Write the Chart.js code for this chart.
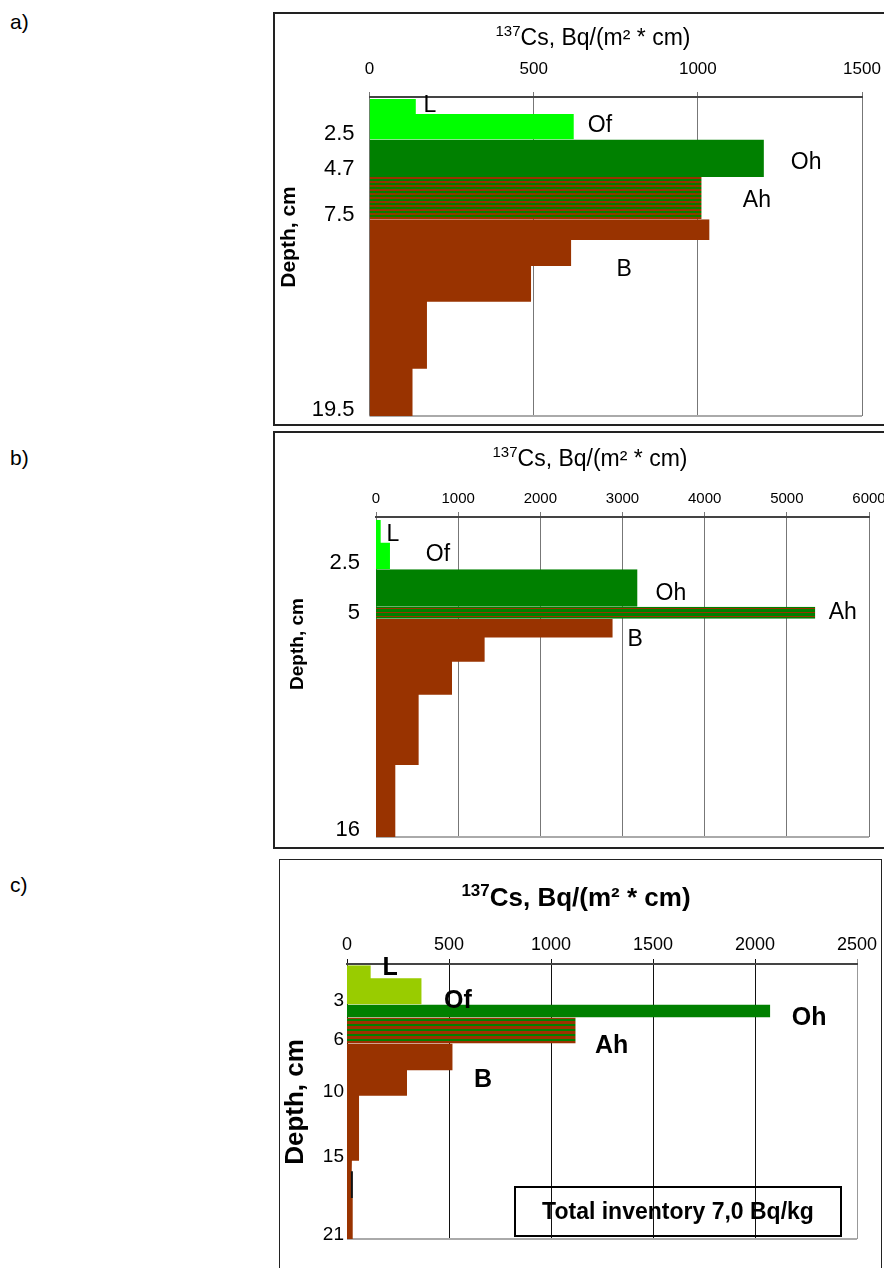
<!DOCTYPE html>
<html>
<head>
<meta charset="utf-8">
<script src="https://cdn.jsdelivr.net/npm/chart.js@4.4.1/dist/chart.umd.min.js"></script>
<style>
  body { margin: 0; width: 884px; height: 1268px; overflow: hidden; background: #fff; position: relative;
         font-family: 'Liberation Sans', Arial, sans-serif; }
  .tag { position: absolute; left: 10px; font-size: 21px; }
  .box { position: absolute; border: 2px solid #222; box-sizing: border-box; }
  canvas { position: absolute; }
  .inventory { position: absolute; left: 514px; top: 1186px; width: 328px; height: 51px; box-sizing: border-box;
               border: 2px solid #000; font-weight: bold; font-size: 23px; text-align: center; line-height: 47px; }
</style>
</head>
<body>
<div class="tag" style="top:10px">a)</div>
<div class="tag" style="top:446px">b)</div>
<div class="tag" style="top:873px">c)</div>

<div class="box" style="left:273px; top:12px; width:640px; height:414px"></div>
<div class="box" style="left:273px; top:431px; width:640px; height:418px"></div>
<div class="box" style="left:279px; top:859px; width:603px; height:430px; border-width:1px"></div>

<canvas id="chartA" width="610" height="411" style="left:274px; top:13px"></canvas>
<canvas id="chartB" width="610" height="415" style="left:274px; top:432px"></canvas>
<canvas id="chartC" width="600" height="407" style="left:280px; top:861px"></canvas>

<div class="inventory">Total inventory 7,0 Bq/kg</div>

<script>
// a) profile: layer boundaries (cm), activity per layer, horizon of each layer
const aDepthBounds = [0, 0.92, 2.5, 4.8, 7.4, 8.67, 10.27, 12.48, 16.6, 19.5];
const aActivity = [141, 622, 1201, 1011, 1035, 614, 492, 175, 131];
const aHorizon = ['L', 'Of', 'Oh', 'Ah', 'B', 'B', 'B', 'B', 'B'];
const aDepthTicks = [2.5, 4.7, 7.5, 19.5];
const aActivityTicks = [0, 500, 1000, 1500];

// b) profile
const bDepthBounds = [0, 1.15, 2.5, 4.39, 5.0, 5.95, 7.18, 8.85, 12.4, 16.05];
const bActivity = [57, 170, 3180, 5344, 2879, 1322, 925, 519, 235];
const bHorizon = ['L', 'Of', 'Oh', 'Ah', 'B', 'B', 'B', 'B', 'B'];
const bDepthTicks = [2.5, 5, 16];
const bActivityTicks = [0, 1000, 2000, 3000, 4000, 5000, 6000];

// c) profile
const cDepthBounds = [0, 1.0, 3.0, 4.0, 6.0, 8.05, 10.0, 15.0, 15.8, 17.85, 21];
const cActivity = [116, 365, 2074, 1120, 517, 294, 59, 24, 20, 28];
const cHorizon = ['L', 'Of', 'Oh', 'Ah', 'B', 'B', 'B', 'B', 'B', 'B'];
const cDepthTicks = [3, 6, 10, 15, 21];
const cActivityTicks = [0, 500, 1000, 1500, 2000, 2500];
const cMarkerDepth = [15.8, 17.85];
const cMarkerValue = 24;

Chart.defaults.font.family = "'Liberation Sans', Arial, sans-serif";
Chart.defaults.color = '#000';

const BROWN = '#993300';
const DARK_GREEN = '#008000';

function stripes(brownRows, greenRows) {
  const c = document.createElement('canvas');
  c.width = 4;
  c.height = brownRows + greenRows;
  const g = c.getContext('2d');
  g.fillStyle = BROWN;
  g.fillRect(0, 0, 4, brownRows);
  g.fillStyle = DARK_GREEN;
  g.fillRect(0, brownRows, 4, greenRows);
  return g.createPattern(c, 'repeat');
}

// one filled step outline per run of layers sharing the same fill
function layerSets(bounds, values, horizons, fills) {
  const sets = [];
  let current = null;
  values.forEach((v, i) => {
    const fill = fills[horizons[i]];
    if (!current || current.backgroundColor !== fill) {
      current = { data: [], backgroundColor: fill, fill: 'origin', borderWidth: 0, pointRadius: 0 };
      sets.push(current);
    }
    current.data.push({ x: v, y: bounds[i] }, { x: v, y: bounds[i + 1] });
  });
  return sets;
}

// no label overhang padding, the layout padding places the plot
function noOverhang(s) {
  s.paddingLeft = 0;
  s.paddingRight = 0;
  s.paddingTop = 0;
  s.paddingBottom = 0;
}

const panelText = {
  id: 'panelText',
  beforeDatasetsDraw(chart) {
    const { ctx, chartArea: a } = chart;
    ctx.save();
    ctx.strokeStyle = '#aaa';
    ctx.lineWidth = 2;
    ctx.beginPath();
    ctx.moveTo(a.left, a.bottom);
    ctx.lineTo(a.right, a.bottom);
    ctx.stroke();
    ctx.restore();
  },
  afterDraw(chart, args, opts) {
    const { ctx, scales: { x, y } } = chart;
    ctx.save();
    ctx.fillStyle = '#000';
    ctx.textBaseline = 'middle';
    ctx.textAlign = 'center';
    ctx.font = opts.labelFont;
    opts.spots.forEach((s) => ctx.fillText(s.text, x.getPixelForValue(s.x), y.getPixelForValue(s.y) + 2));

    const t = opts.title;
    ctx.font = t.font;
    const mainW = ctx.measureText(t.text).width;
    ctx.font = t.supFont;
    const supW = ctx.measureText(t.sup).width;
    const left = t.x - (mainW + supW) / 2;
    ctx.textAlign = 'left';
    ctx.fillText(t.sup, left, t.y - t.rise);
    ctx.font = t.font;
    ctx.fillText(t.text, left + supW, t.y);

    const d = opts.depthTitle;
    ctx.translate(d.x, d.y);
    ctx.rotate(-Math.PI / 2);
    ctx.font = d.font;
    ctx.textAlign = 'center';
    ctx.fillText('Depth, cm', 0, 0);
    ctx.restore();
  },
};

function makeChart(id, p) {
  return new Chart(document.getElementById(id), {
    type: 'line',
    data: { datasets: p.datasets },
    plugins: [panelText],
    options: {
      indexAxis: 'y',
      responsive: false,
      animation: false,
      layout: { padding: p.padding },
      plugins: { legend: { display: false }, tooltip: { enabled: false }, panelText: p.text },
      scales: {
        x: {
          type: 'linear',
          position: 'top',
          min: p.xTicks[0],
          max: p.xTicks[p.xTicks.length - 1],
          afterBuildTicks: (s) => { s.ticks = p.xTicks.map((v) => ({ value: v })); },
          afterFit: (s) => { s.height = p.xHeight; noOverhang(s); },
          ticks: { font: { size: p.xTickSize }, padding: p.xTickPad, maxRotation: 0, callback: (v) => String(v) },
          grid: { color: p.gridColor, lineWidth: 1, tickLength: 5 },
          border: { color: '#444', width: 2 },
        },
        y: {
          type: 'linear',
          reverse: true,
          min: p.yMin,
          max: p.yMax,
          afterBuildTicks: (s) => { s.ticks = p.yTicks.map((v) => ({ value: v })); },
          afterFit: (s) => { s.width = p.yWidth; noOverhang(s); },
          ticks: { font: { size: p.yTickSize }, padding: p.yTickPad, labelOffset: p.yLabelOffset, autoSkip: false,
                   callback: (v) => String(v) },
          grid: { display: false, drawTicks: false },
          border: { display: false },
        },
      },
    },
  });
}

const litter = '#00ff00';
const fillsA = { L: litter, Of: litter, Oh: DARK_GREEN, Ah: stripes(2, 2), B: BROWN };
const fillsB = { L: litter, Of: litter, Oh: DARK_GREEN, Ah: stripes(1, 3), B: BROWN };
const fillsC = { L: '#99cc00', Of: '#99cc00', Oh: DARK_GREEN, Ah: stripes(3, 2), B: BROWN };

makeChart('chartA', {
  datasets: layerSets(aDepthBounds, aActivity, aHorizon, fillsA),
  padding: { left: 0, right: 22, top: 0, bottom: 8 },
  xTicks: aActivityTicks, xHeight: 84, xTickSize: 17, xTickPad: 12, gridColor: '#777',
  yTicks: aDepthTicks, yMin: -0.12, yMax: 19.5, yWidth: 95.5, yTickSize: 22, yTickPad: 15, yLabelOffset: -6,
  text: {
    labelFont: "23px 'Liberation Sans', Arial, sans-serif",
    spots: [
      { text: 'L', x: 184, y: 0.3 }, { text: 'Of', x: 702, y: 1.54 }, { text: 'Oh', x: 1330, y: 3.8 },
      { text: 'Ah', x: 1180, y: 6.15 }, { text: 'B', x: 776, y: 10.4 },
    ],
    title: { sup: '137', text: 'Cs, Bq/(m² * cm)', x: 319, y: 26, rise: 7,
             font: "23px 'Liberation Sans', Arial, sans-serif", supFont: "15px 'Liberation Sans', Arial, sans-serif" },
    depthTitle: { x: 15, y: 224, font: "bold 21px 'Liberation Sans', Arial, sans-serif" },
  },
});

makeChart('chartB', {
  datasets: layerSets(bDepthBounds, bActivity, bHorizon, fillsB),
  padding: { left: 0, right: 15, top: 0, bottom: 10 },
  xTicks: bActivityTicks, xHeight: 85, xTickSize: 15, xTickPad: 4, gridColor: '#777',
  yTicks: bDepthTicks, yMin: -0.15, yMax: 16.05, yWidth: 102, yTickSize: 22, yTickPad: 16, yLabelOffset: -6,
  text: {
    labelFont: "23px 'Liberation Sans', Arial, sans-serif",
    spots: [
      { text: 'L', x: 207, y: 0.66 }, { text: 'Of', x: 754, y: 1.63 }, { text: 'Oh', x: 3589, y: 3.62 },
      { text: 'Ah', x: 5681, y: 4.59 }, { text: 'B', x: 3154, y: 5.97 },
    ],
    title: { sup: '137', text: 'Cs, Bq/(m² * cm)', x: 316, y: 28, rise: 7,
             font: "23px 'Liberation Sans', Arial, sans-serif", supFont: "15px 'Liberation Sans', Arial, sans-serif" },
    depthTitle: { x: 24, y: 212, font: "bold 19px 'Liberation Sans', Arial, sans-serif" },
  },
});

const cSets = layerSets(cDepthBounds, cActivity, cHorizon, fillsC);
cSets.unshift({
  data: cMarkerDepth.map((d) => ({ x: cMarkerValue, y: d })),
  borderColor: '#111', borderWidth: 2, fill: false, pointRadius: 0,
});

makeChart('chartC', {
  datasets: cSets,
  padding: { left: 0, right: 23, top: 0, bottom: 29 },
  xTicks: cActivityTicks, xHeight: 103, xTickSize: 18, xTickPad: 3,
  gridColor: (ctx) => (ctx.tick && ctx.tick.value === 2500 ? '#999' : '#111'),
  yTicks: cDepthTicks, yMin: -0.1, yMax: 21, yWidth: 67, yTickSize: 19, yTickPad: 3, yLabelOffset: -4,
  text: {
    labelFont: "bold 25px 'Liberation Sans', Arial, sans-serif",
    spots: [
      { text: 'L', x: 211, y: 0.05 }, { text: 'Of', x: 544, y: 2.6 }, { text: 'Oh', x: 2265, y: 3.9 },
      { text: 'Ah', x: 1297, y: 6.05 }, { text: 'B', x: 667, y: 8.66 },
    ],
    title: { sup: '137', text: 'Cs, Bq/(m² * cm)', x: 296, y: 38, rise: 8,
             font: "bold 26px 'Liberation Sans', Arial, sans-serif", supFont: "bold 17px 'Liberation Sans', Arial, sans-serif" },
    depthTitle: { x: 16, y: 241, font: "bold 26px 'Liberation Sans', Arial, sans-serif" },
  },
});
</script>
</body>
</html>
